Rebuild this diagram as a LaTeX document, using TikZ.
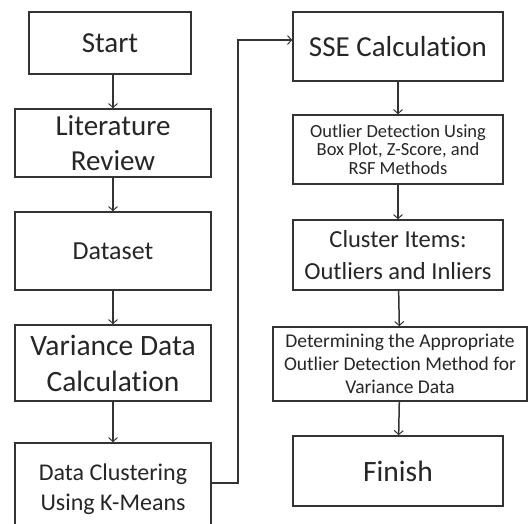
\documentclass[tikz,border=0pt]{standalone}
\usepackage{fontspec}
\setmainfont{Carlito}[Ligatures=NoCommon]
\usetikzlibrary{arrows.meta}
\begin{document}
\begin{tikzpicture}[x=1pt,y=-1pt,
  box/.style={draw=black!80,line width=1.6pt,rectangle,align=center,text=black!85,inner sep=0pt},
  arr/.style={draw=black!80,line width=1.5pt,-{Straight Barb[length=4pt,width=9pt,line width=1pt]}}]
\useasboundingbox[fill=white] (0,0) rectangle (528,523);
\node[box,minimum width=162,minimum height=62,font=\fontsize{29}{32}\selectfont] (start) at (110,43) {Start};
\node[box,minimum width=196,minimum height=68,font=\fontsize{29}{35}\selectfont] (lit) at (113,143) {Literature\\Review};
\node[box,minimum width=196,minimum height=78,font=\fontsize{26}{30}\selectfont] (data) at (113,251) {Dataset};
\node[box,minimum width=196,minimum height=76,font=\fontsize{29.5}{36}\selectfont] (var) at (113,363) {Variance Data\\Calculation};
\node[box,minimum width=196,minimum height=88,font=\fontsize{24}{30}\selectfont] (clus) at (113,487) {\\[-9pt]Data Clustering\\Using K-Means};
\node[box,minimum width=210,minimum height=69,font=\fontsize{29}{34}\selectfont] (sse) at (398,46.5) {SSE Calculation};
\node[box,minimum width=210,minimum height=69,font=\fontsize{18.5}{18.5}\selectfont] (out) at (398,149.5) {Outlier Detection Using\\Box Plot, Z-Score, and\\RSF Methods};
\node[box,minimum width=210,minimum height=70,font=\fontsize{24.5}{32}\selectfont] (items) at (398,255) {Cluster Items:\\Outliers and Inliers};
\node[box,minimum width=254,minimum height=74,font=\fontsize{19.5}{23}\selectfont] (det) at (400,364) {Determining the Appropriate\\Outlier Detection Method for\\Variance Data};
\node[box,minimum width=210,minimum height=70,font=\fontsize{29.5}{32}\selectfont] (fin) at (398,471) {Finish};
\coordinate (bend0) at (238,483);
\coordinate (bend) at (238,40);
\draw[arr] (start.south -| lit) -- (lit);
\draw[arr] (lit) -- (data);
\draw[arr] (data) -- (var);
\draw[arr] (var) -- (clus);
\draw[arr] (clus.east |- bend0) -- (bend0) -- (bend) -- (sse.west |- bend);
\draw[arr] (sse) -- (out);
\draw[arr] (out) -- (items);
\draw[arr] (items) -- (det);
\draw[arr] (det) -- (fin);
\end{tikzpicture}
\end{document}
